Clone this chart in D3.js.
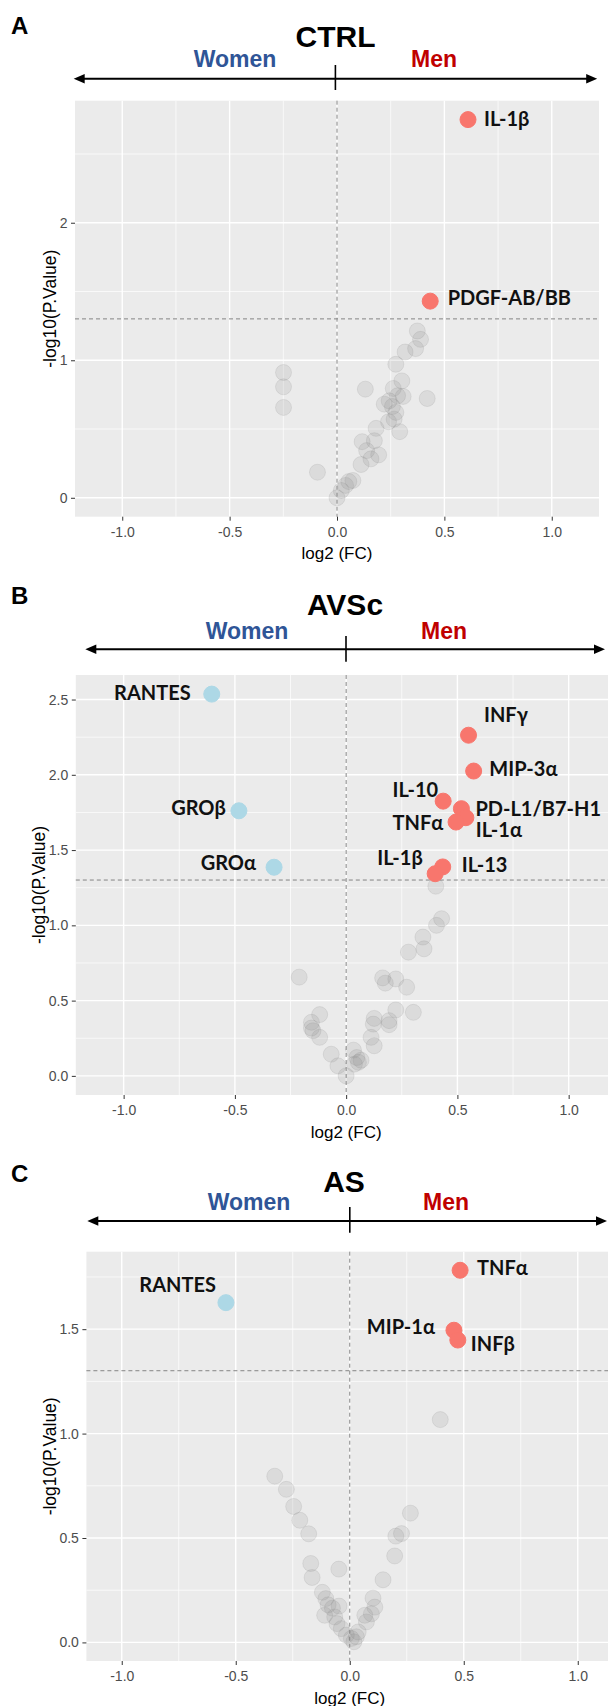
<!DOCTYPE html>
<html>
<head>
<meta charset="utf-8">
<script src="https://cdn.jsdelivr.net/npm/d3@7"></script>
<style>
body { margin: 0; background: #fff; }
svg { display: block; }
</style>
</head>
<body>
<div id="content"></div>
<script>
// log2(FC) men vs women, -log10(p) ; significant cytokines get a label
var ctrlSig = [
    {name: "IL-1β", fc: 0.61, p: 2.75},
    {name: "PDGF-AB/BB", fc: 0.434, p: 1.43}
];
var ctrlNS = [[-0.249,0.911],[-0.249,0.807],[-0.249,0.657],[-0.091,0.186],[0,0],[0.02,0.053],[0.04,0.09],
    [0.055,0.118],[0.074,0.126],[0.132,0.79],[0.112,0.242],[0.117,0.408],[0.138,0.343],[0.158,0.283],
    [0.174,0.415],[0.194,0.312],[0.182,0.505],[0.24,0.553],[0.266,0.572],[0.292,0.481],[0.22,0.681],
    [0.243,0.705],[0.258,0.664],[0.274,0.621],[0.282,0.742],[0.308,0.737],[0.262,0.795],[0.302,0.85],
    [0.274,0.971],[0.317,1.06],[0.366,1.085],[0.374,1.213],[0.389,1.152],[0.42,0.722]];

var avscSig = [
    {name: "RANTES", fc: -0.604, p: 2.536},
    {name: "GROβ", fc: -0.482, p: 1.761},
    {name: "GROα", fc: -0.324, p: 1.386},
    {name: "INFγ", fc: 0.55, p: 2.263},
    {name: "MIP-3α", fc: 0.573, p: 2.025},
    {name: "IL-10", fc: 0.436, p: 1.825},
    {name: "PD-L1/B7-H1", fc: 0.518, p: 1.775},
    {name: "IL-1α", fc: 0.538, p: 1.715},
    {name: "TNFα", fc: 0.494, p: 1.686},
    {name: "IL-13", fc: 0.434, p: 1.388},
    {name: "IL-1β", fc: 0.4, p: 1.343}
];
var avscNS = [[0.403,1.26],[0.429,1.044],[0.406,1.0],[0.345,0.922],[0.35,0.844],[0.28,0.822],[-0.211,0.656],
    [0.164,0.651],[0.176,0.616],[0.223,0.644],[0.272,0.589],[0.223,0.438],[0.302,0.422],[0.126,0.382],
    [0.122,0.344],[0.193,0.367],[0.193,0.34],[0.112,0.256],[0.126,0.2],[-0.119,0.407],[-0.156,0.356],
    [-0.156,0.318],[-0.149,0.3],[-0.119,0.256],[-0.067,0.144],[-0.037,0.067],[0,0],[0.033,0.171],
    [0.048,0.122],[0.067,0.104],[0.037,0.078],[0.055,0.09]];

var asSig = [
    {name: "RANTES", fc: -0.543, p: 1.627},
    {name: "TNFα", fc: 0.484, p: 1.782},
    {name: "MIP-1α", fc: 0.457, p: 1.495},
    {name: "INFβ", fc: 0.474, p: 1.448}
];
var asNS = [[-0.329,0.796],[-0.278,0.733],[-0.246,0.651],[-0.219,0.585],[-0.18,0.52],[-0.171,0.378],
    [-0.165,0.311],[-0.048,0.351],[-0.12,0.24],[-0.105,0.21],[-0.095,0.18],[-0.11,0.13],[-0.076,0.164],
    [-0.047,0.174],[-0.066,0.122],[-0.056,0.09],[-0.037,0.066],[-0.015,0.035],[0.007,0.019],[0.018,0.003],
    [0.266,0.619],[0.227,0.521],[0.202,0.509],[0.197,0.414],[0.146,0.3],[0.102,0.212],[0.11,0.169],
    [0.095,0.137],[0.066,0.13],[0.073,0.098],[0.037,0.05],[0.029,0.027],[0.397,1.067]];

var xTicks = [-1, -0.5, 0, 0.5, 1];
var xTickLabels = ["-1.0", "-0.5", "0.0", "0.5", "1.0"];
var xMinor = [-0.75, -0.25, 0.25, 0.75];
var ctrlYTicks = [0, 1, 2], ctrlYLabels = ["0", "1", "2"], ctrlYMinor = [0.5, 1.5, 2.5];
var avscYTicks = [0, 0.5, 1, 1.5, 2, 2.5], avscYLabels = ["0.0", "0.5", "1.0", "1.5", "2.0", "2.5"];
var avscYMinor = [0.25, 0.75, 1.25, 1.75, 2.25];
var asYTicks = [0, 0.5, 1, 1.5], asYLabels = ["0.0", "0.5", "1.0", "1.5"], asYMinor = [0.25, 0.75, 1.25, 1.75];
var pCut = 1.301;   // -log10(0.05)

// label offsets from the dot (dx, dy, anchor)
var labelAt = {
    A: {"IL-1β": [16, 6.5, "start"], "PDGF-AB/BB": [17.5, 4, "start"]},
    B: {"RANTES": [-21, 5.5, "end"], "GROβ": [-13, 4, "end"], "GROα": [-18, 3, "end"],
        "INFγ": [15.5, -13.5, "start"], "MIP-3α": [15.7, 5, "start"], "IL-10": [-5, -4, "end"],
        "PD-L1/B7-H1": [14, 7.5, "start"], "IL-1α": [10, 19.5, "start"], "TNFα": [-12.7, 8, "end"],
        "IL-13": [19, 5, "start"], "IL-1β": [-12.4, -9, "end"]},
    C: {"TNFα": [17, 5, "start"], "RANTES": [-10, -11, "end"], "MIP-1α": [-19, 4, "end"], "INFβ": [13, 10.6, "start"]}
};

var panels = [
    {key: "A", title: "CTRL", sig: ctrlSig, ns: ctrlNS, yTicks: ctrlYTicks, yLabels: ctrlYLabels, yMinor: ctrlYMinor,
     left: 75, right: 599, top: 100.7, bottom: 516.7, xDom: [-1.22, 1.22], yDom: [-0.1375, 2.8875], yTitleX: 50,
     head: {letterY: 34, titleX: 335.5, titleY: 46.7, womenX: 235, menX: 434, sexY: 66.7,
            arrowL: 73.7, arrowR: 597.2, arrowY: 78.7, midX: 335.4, midT: 65, midB: 90}},
    {key: "B", title: "AVSc", sig: avscSig, ns: avscNS, yTicks: avscYTicks, yLabels: avscYLabels, yMinor: avscYMinor,
     left: 75.8, right: 616.5, top: 675, bottom: 1095, xDom: [-1.215, 1.215], yDom: [-0.127, 2.663], yTitleX: 39,
     head: {letterY: 604, titleX: 345, titleY: 615, womenX: 247, menX: 444, sexY: 638.5,
            arrowL: 85.3, arrowR: 605, arrowY: 649.3, midX: 346, midT: 636, midB: 661.7}},
    {key: "C", title: "AS", sig: asSig, ns: asNS, yTicks: asYTicks, yLabels: asYLabels, yMinor: asYMinor,
     left: 86.4, right: 613.1, top: 1251.7, bottom: 1661, xDom: [-1.155, 1.155], yDom: [-0.089, 1.871], yTitleX: 50,
     head: {letterY: 1182, titleX: 344, titleY: 1191.7, womenX: 249, menX: 446, sexY: 1210,
            arrowL: 87.3, arrowR: 607, arrowY: 1221, midX: 349.8, midT: 1207, midB: 1232.7}}
];

var svg = d3.select("#content").append("svg")
    .attr("width", 608).attr("height", 1706)
    .style("font-family", "'Liberation Sans', Arial, sans-serif");

svg.append("rect").attr("width", 608).attr("height", 1706).attr("fill", "#fff");

panels.forEach(function(p) {
    var x = d3.scaleLinear().domain(p.xDom).range([p.left, p.right]);
    var y = d3.scaleLinear().domain(p.yDom).range([p.bottom, p.top]);
    var g = svg.append("g");
    var h = p.head;

    // header: letter, title, sex arrow
    g.append("text").attr("x", 11).attr("y", h.letterY)
        .style("font-size", "24px").style("font-weight", "bold").text(p.key);
    g.append("text").attr("x", h.titleX).attr("y", h.titleY).attr("text-anchor", "middle")
        .style("font-size", "30px").style("font-weight", "bold").text(p.title);
    g.append("text").attr("x", h.womenX).attr("y", h.sexY).attr("text-anchor", "middle")
        .style("font-size", "23px").style("font-weight", "bold").attr("fill", "#2F5597").text("Women");
    g.append("text").attr("x", h.menX).attr("y", h.sexY).attr("text-anchor", "middle")
        .style("font-size", "23px").style("font-weight", "bold").attr("fill", "#C00000").text("Men");

    g.append("line").attr("x1", h.arrowL + 6).attr("x2", h.arrowR - 6)
        .attr("y1", h.arrowY).attr("y2", h.arrowY).attr("stroke", "#000").attr("stroke-width", 2);
    g.append("path").attr("d", "M" + h.arrowL + "," + h.arrowY + "l11,-4.7v9.4z").attr("fill", "#000");
    g.append("path").attr("d", "M" + h.arrowR + "," + h.arrowY + "l-11,-4.7v9.4z").attr("fill", "#000");
    g.append("line").attr("x1", h.midX).attr("x2", h.midX).attr("y1", h.midT).attr("y2", h.midB)
        .attr("stroke", "#000").attr("stroke-width", 1.6);

    // panel background + grid
    g.append("rect").attr("x", p.left).attr("y", p.top)
        .attr("width", p.right - p.left).attr("height", p.bottom - p.top).attr("fill", "#EBEBEB");

    g.selectAll(".vminor").data(xMinor).enter().append("line")
        .attr("x1", x).attr("x2", x).attr("y1", p.top).attr("y2", p.bottom)
        .attr("stroke", "#fff").attr("stroke-width", 0.7);
    g.selectAll(".hminor").data(p.yMinor).enter().append("line")
        .attr("x1", p.left).attr("x2", p.right).attr("y1", y).attr("y2", y)
        .attr("stroke", "#fff").attr("stroke-width", 0.7);
    g.selectAll(".vmajor").data(xTicks).enter().append("line")
        .attr("x1", x).attr("x2", x).attr("y1", p.top).attr("y2", p.bottom)
        .attr("stroke", "#fff").attr("stroke-width", 1.4);
    g.selectAll(".hmajor").data(p.yTicks).enter().append("line")
        .attr("x1", p.left).attr("x2", p.right).attr("y1", y).attr("y2", y)
        .attr("stroke", "#fff").attr("stroke-width", 1.4);

    // reference lines
    g.append("line").attr("x1", x(0)).attr("x2", x(0)).attr("y1", p.top).attr("y2", p.bottom)
        .attr("stroke", "#848484").attr("stroke-width", 1).attr("stroke-dasharray", "4,3");
    g.append("line").attr("x1", p.left).attr("x2", p.right).attr("y1", y(pCut)).attr("y2", y(pCut))
        .attr("stroke", "#848484").attr("stroke-width", 1).attr("stroke-dasharray", "4,3");

    // axes
    var xa = g.append("g").attr("transform", "translate(0," + p.bottom + ")")
        .call(d3.axisBottom(x).tickValues(xTicks).tickSize(4).tickPadding(6.5)
            .tickFormat(function(d, i) { return xTickLabels[i]; }));
    var ya = g.append("g").attr("transform", "translate(" + p.left + ",0)")
        .call(d3.axisLeft(y).tickValues(p.yTicks).tickSize(4).tickPadding(3.5)
            .tickFormat(function(d, i) { return p.yLabels[i]; }));
    [xa, ya].forEach(function(a) {
        a.select(".domain").remove();
        a.selectAll("line").attr("stroke", "#333");
        a.selectAll("text").attr("fill", "#4D4D4D").style("font-size", "14px")
            .style("font-family", "'Liberation Sans', Arial, sans-serif");
    });

    g.append("text").attr("x", x(0)).attr("y", p.bottom + 42.5).attr("text-anchor", "middle")
        .style("font-size", "17px").text("log2 (FC)");
    g.append("text").attr("transform", "translate(" + p.yTitleX + "," + ((p.top + p.bottom) / 2) + ") rotate(-90)")
        .attr("text-anchor", "middle").attr("dy", "0.35em")
        .style("font-size", "17.5px").text("-log10(P.Value)");

    // points
    g.selectAll(".ns").data(p.ns).enter().append("circle")
        .attr("cx", function(d) { return x(d[0]); })
        .attr("cy", function(d) { return y(d[1]); })
        .attr("r", 8)
        .attr("fill", "#7f7f7f").attr("fill-opacity", 0.15)
        .attr("stroke", "#7f7f7f").attr("stroke-opacity", 0.15).attr("stroke-width", 1);

    g.selectAll(".sig").data(p.sig).enter().append("circle")
        .attr("cx", function(d) { return x(d.fc); })
        .attr("cy", function(d) { return y(d.p); })
        .attr("r", 8)
        .attr("fill", function(d) { return d.fc < 0 ? "#ADD8E6" : "#F8766D"; })
        .attr("stroke", function(d) { return d.fc < 0 ? "#ADD8E6" : "#F8766D"; })
        .attr("stroke-width", 1);

    g.selectAll(".lab").data(p.sig).enter().append("text")
        .attr("x", function(d) { return x(d.fc) + labelAt[p.key][d.name][0]; })
        .attr("y", function(d) { return y(d.p) + labelAt[p.key][d.name][1]; })
        .attr("text-anchor", function(d) { return labelAt[p.key][d.name][2]; })
        .style("font-family", "Lato, 'Open Sans', sans-serif")
        .style("font-weight", "bold").style("font-size", "20px").attr("fill", "#111")
        .text(function(d) { return d.name; });
});
</script>
</body>
</html>
